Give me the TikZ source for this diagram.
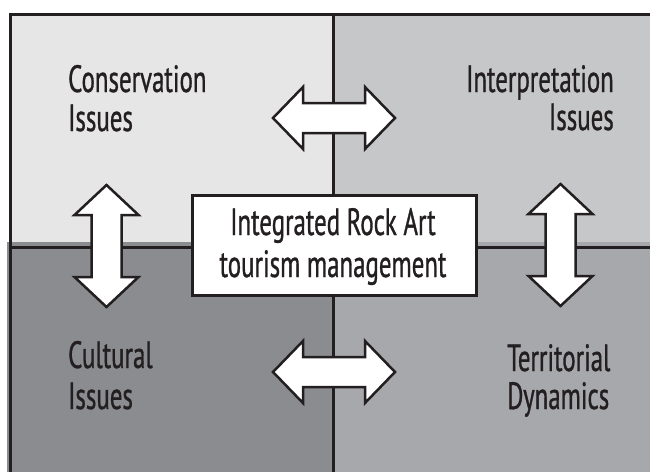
\documentclass[tikz,border=0pt]{standalone}
\usepackage{fontspec}
\newfontfamily\lblfont{PT Sans}[FakeStretch=0.655,FakeBold=0.8]
\definecolor{tlfill}{HTML}{E6E6E6}
\definecolor{trfill}{HTML}{C6C7C9}
\definecolor{blfill}{HTML}{8B8C8F}
\definecolor{brfill}{HTML}{A7A8AB}
\definecolor{ink}{HTML}{231F20}
\tikzset{
  frameline/.style={draw=ink, line width=3pt},
  lbl/.style={font=\lblfont\fontsize{38}{44}\selectfont, text=ink, inner sep=0pt},
  arrowshape/.style={draw=ink, fill=white, line width=2.5pt, line join=miter},
  harrow/.pic={\path[arrowshape] (-61,0) -- (-31,-31) -- (-31,-15) -- (31,-15) -- (31,-31) -- (61,0) -- (31,31) -- (31,15) -- (-31,15) -- (-31,31) -- cycle;},
  varrow/.pic={\path[arrowshape] (0,-61) -- (-32,-31) -- (-15,-31) -- (-15,31) -- (-32,31) -- (0,61) -- (32,31) -- (15,31) -- (15,-31) -- (32,-31) -- cycle;}
}
\begin{document}
\begin{tikzpicture}[x=1pt,y=-1pt]
\useasboundingbox (0,0) rectangle (650,472);
% quadrant fills
\fill[tlfill] (10,14) rectangle (333,247);
\fill[trfill] (333,14) rectangle (650,247);
\fill[blfill] (7,242) rectangle (333,472);
\fill[brfill] (333,242) rectangle (650,472);
% frame lines
\coordinate (tl) at (10,14);
\coordinate (tr) at (650,14);
\coordinate (bl) at (10,472);
\coordinate (mt) at (333,14);
\coordinate (mb) at (333,472);
\coordinate (ml) at (10,247);
\coordinate (mr) at (650,247);
\draw[frameline] (tr) -- (tl) -- (bl);
\draw[frameline] (mt) -- (mb);
\draw[frameline] (ml) -- (mr);
% centre box
\node (centre) [draw=ink, fill=white, line width=3pt, minimum width=284pt, minimum height=100pt, inner sep=0pt] at (334,245) {};
\node (c1) [lbl, anchor=base] at (333,235) {Integrated Rock Art};
\node (c2) [lbl, anchor=base] at (333,277) {tourism management};
% labels
\node (cons1) [lbl, anchor=base west] at (68,92) {Conservation};
\node (cons2) [lbl, anchor=base west] at (68,131) {Issues};
\node (int1) [lbl, anchor=base east] at (614,92) {Interpretation};
\node (int2) [lbl, anchor=base east] at (614,130) {Issues};
\node (cul1) [lbl, anchor=base west] at (68,368) {Cultural};
\node (cul2) [lbl, anchor=base west] at (68,409) {Issues};
\node (ter1) [lbl, anchor=base west] at (507,371) {Territorial};
\node (ter2) [lbl, anchor=base west] at (507,409) {Dynamics};
% arrows
\pic at (334,118) {harrow};
\pic at (334,372) {harrow};
\pic at (106.5,246) {varrow};
\pic at (560.5,245) {varrow};
\end{tikzpicture}
\end{document}
